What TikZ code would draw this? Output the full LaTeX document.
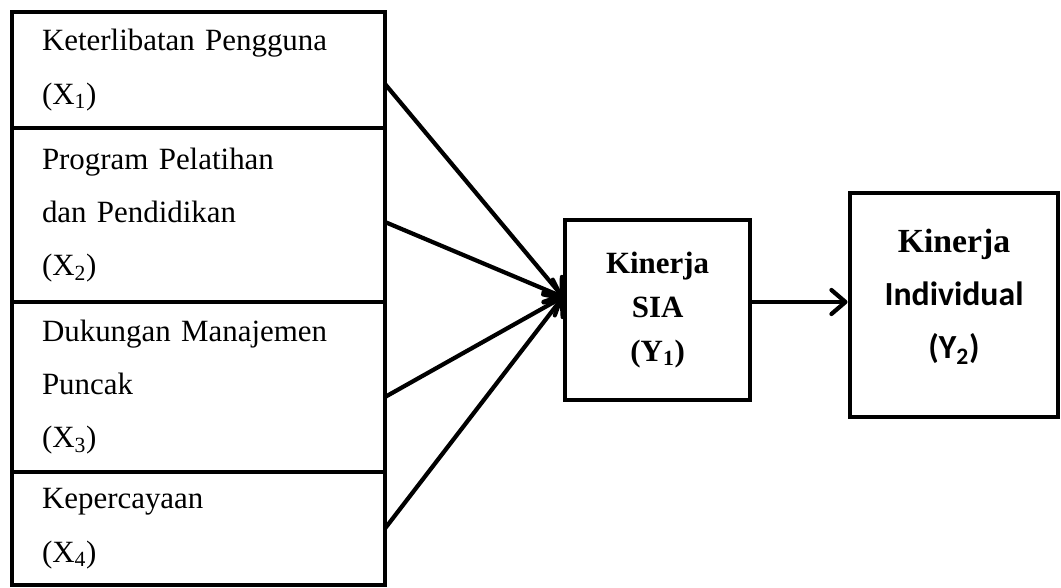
\documentclass[tikz,border=0pt]{standalone}
\usepackage{fontspec}
\setmainfont{Liberation Serif}
\newfontfamily\calibri{Carlito}
\usepackage{tikz}
\usetikzlibrary{arrows.meta, positioning}

\begin{document}
\begin{tikzpicture}[
    varbox/.style={rectangle, draw=black, line width=3.5pt, outer sep=0pt, minimum width=9.325cm, text width=7.825cm, inner xsep=0.75cm, align=left, font=\fontsize{22}{38}\selectfont},
    resbox/.style={rectangle, draw=black, line width=3pt, align=center},
    arrow/.style={-{Straight Barb[length=0.35cm, width=0.6cm, round]}, line width=3pt}
]
\useasboundingbox (0,0) rectangle (26.525,-14.7);

% Independent variables, stacked
\node[varbox, minimum height=2.9cm, anchor=north west] (x1) at (0.3,-0.3) {Keterlibatan Pengguna\\(X\textsubscript{1})};
\node[varbox, minimum height=4.35cm, below=0pt of x1] (x2) {Program Pelatihan\\dan Pendidikan\\(X\textsubscript{2})};
\node[varbox, minimum height=4.25cm, below=0pt of x2] (x3) {Dukungan Manajemen\\Puncak\\(X\textsubscript{3})};
\node[varbox, minimum height=2.825cm, below=0pt of x3] (x4) {Kepercayaan\\(X\textsubscript{4})};

% Dependent variables
\node[resbox, minimum width=4.625cm, minimum height=4.5cm, font=\fontsize{22}{31}\selectfont\bfseries] (y1) at (16.44,-7.75) {Kinerja\\SIA\\(Y\textsubscript{1})};
\node[resbox, line width=3.5pt, minimum width=5.2cm, minimum height=5.6cm, font=\fontsize{24}{38}\selectfont\bfseries] (y2) at (23.85,-7.625) {Kinerja\\{\calibri Individual}\\{\calibri (Y\textsubscript{2})}\\[-22pt]};

% Arrows into Kinerja SIA
\coordinate (hub) at ([yshift=0.325cm]y1.west);
\draw[arrow] ([yshift=-0.35cm]x1.east) -- (hub);
\draw[arrow] ([yshift=-0.175cm]x2.east) -- (hub);
\draw[arrow] ([yshift=-0.25cm]x3.east) -- (hub);
\draw[arrow] (x4.east) -- (hub);

% Arrow to Kinerja Individual
\draw[arrow] ([yshift=0.2cm]y1.east) -- ([yshift=0.075cm]y2.west);
\end{tikzpicture}
\end{document}
